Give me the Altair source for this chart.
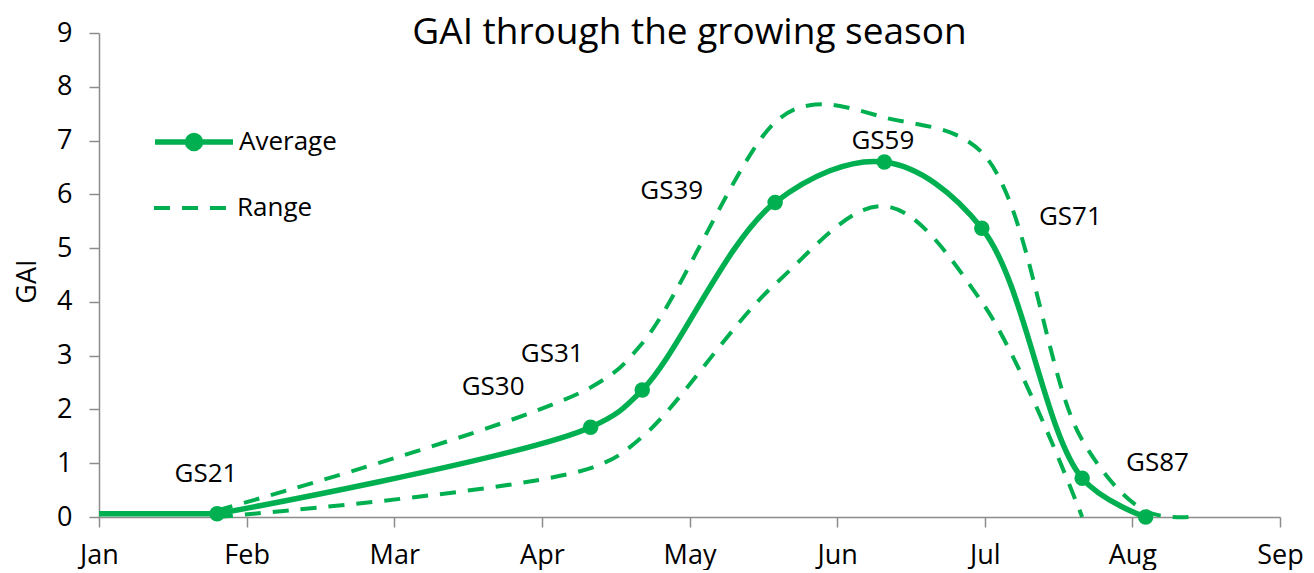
import altair as alt
import pandas as pd

GREEN = "#00B050"
GREY = "#8C8C8C"
FONT = "Open Sans"

months = ["Jan", "Feb", "Mar", "Apr", "May", "Jun", "Jul", "Aug", "Sep"]

# Average GAI (x in months from 1 Jan)
avg_x = [0.0, 0.80, 3.33, 3.68, 4.58, 5.32, 5.98, 6.66, 7.09]
avg_y = [0.06, 0.06, 1.67, 2.36, 5.85, 6.60, 5.37, 0.72, 0.0]
avg_marker = [False, True, True, True, True, True, True, True, True]

# Range: upper and lower bounds
upper_x = [0.80, 3.33, 3.68, 4.58, 4.85, 5.32, 5.98, 6.66, 7.09, 7.38]
upper_y = [0.12, 2.41, 3.23, 7.34, 7.67, 7.43, 6.78, 1.43, 0.11, 0.0]
lower_x = [0.80, 3.33, 3.68, 4.58, 5.32, 5.98, 6.66]
lower_y = [0.0, 0.91, 1.49, 4.33, 5.78, 4.00, 0.0]

# Growth stage annotations
stage_labels = ["GS21", "GS30", "GS31", "GS39", "GS59", "GS71", "GS87"]
stage_x = [0.725, 2.67, 3.07, 3.88, 5.31, 6.58, 7.17]
stage_y = [0.80, 2.41, 3.03, 6.07, 7.00, 5.57, 1.00]

# Average line: the flat winter stretch (before the first marker) is drawn
# straight, the rest is smoothed.
avg_rows = []
for i, (x, y) in enumerate(zip(avg_x, avg_y)):
    if not avg_marker[i] or (i > 0 and not avg_marker[i - 1]):
        avg_rows.append({"x": x, "y": y, "seg": "winter", "i": i, "series": "Average"})
    if avg_marker[i]:
        avg_rows.append({"x": x, "y": y, "seg": "season", "i": i, "series": "Average"})
avg_df = pd.DataFrame(avg_rows)
marker_df = pd.DataFrame({"x": avg_x, "y": avg_y, "marker": avg_marker})

rng_rows = []
for i, (x, y) in enumerate(zip(upper_x, upper_y)):
    rng_rows.append({"x": x, "y": y, "line": "Upper", "series": "Range", "i": i})
for i, (x, y) in enumerate(zip(lower_x, lower_y)):
    rng_rows.append({"x": x, "y": y, "line": "Lower", "series": "Range", "i": i})
rng_df = pd.DataFrame(rng_rows)

labels_df = pd.DataFrame({"x": stage_x, "y": stage_y, "label": stage_labels})

month_expr = "[" + ",".join(f"'{m}'" for m in months) + "][datum.value]"

x_enc = alt.X(
    "x:Q",
    scale=alt.Scale(domain=[0, 8], nice=False, zero=False),
    axis=alt.Axis(
        values=list(range(9)), labelExpr=month_expr, title=None, grid=False,
        labelFont=FONT, labelFontSize=27, labelColor="black", labelPadding=15,
        tickSize=10, tickColor=GREY, tickWidth=1.5, domainColor=GREY, domainWidth=1.5,
        labelFlush=False, labelOverlap=False,
    ),
)
y_enc = alt.Y(
    "y:Q",
    scale=alt.Scale(domain=[0, 9], nice=False),
    axis=alt.Axis(
        values=list(range(10)), format="d", title="GAI", grid=False,
        labelFont=FONT, labelFontSize=27, labelColor="black", labelPadding=17,
        tickSize=10, tickColor=GREY, tickWidth=1.5, domainColor=GREY, domainWidth=1.5,
        titleFont=FONT, titleFontSize=27, titleFontWeight="normal", titleColor="black",
        titleX=-72, titleY=248, titleBaseline="middle", titleAlign="center",
    ),
)

avg_shape = ("M-1,0L1,0M0.167,0C0.167,0.092,0.092,0.167,0,0.167"
             "C-0.092,0.167,-0.167,0.092,-0.167,0C-0.167,-0.092,-0.092,-0.167,0,-0.167"
             "C0.092,-0.167,0.167,-0.092,0.167,0Z")

avg_legend = alt.Legend(
    title=None, orient="none", legendX=53, legendY=94, padding=0,
    symbolType=avg_shape, symbolSize=6084, symbolStrokeWidth=5.5,
    symbolFillColor=GREEN, symbolStrokeColor=GREEN,
    labelFont=FONT, labelFontSize=26, labelColor="black", labelOffset=3,
    clipHeight=30,
)
rng_legend = alt.Legend(
    title=None, orient="none", legendX=53, legendY=160, padding=0,
    symbolType="stroke", symbolSize=6084, symbolStrokeWidth=4,
    symbolStrokeColor=GREEN,
    labelFont=FONT, labelFontSize=26, labelColor="black", labelOffset=3,
    clipHeight=30,
)

range_lines = alt.Chart(rng_df).mark_line(
    interpolate="catmull-rom", color=GREEN, strokeWidth=4
).encode(
    x=x_enc,
    y=y_enc,
    detail="line:N",
    order="i:Q",
    strokeDash=alt.StrokeDash(
        "series:N",
        scale=alt.Scale(domain=["Range"], range=[[16, 12]]),
        legend=rng_legend,
    ),
)

avg_color = alt.Color(
    "series:N",
    scale=alt.Scale(domain=["Average"], range=[GREEN]),
    legend=avg_legend,
)

avg_winter = alt.Chart(avg_df).transform_filter("datum.seg === 'winter'").mark_line(
    strokeWidth=5.5
).encode(x="x:Q", y="y:Q", order="i:Q", color=avg_color)

avg_season = alt.Chart(avg_df).transform_filter("datum.seg === 'season'").mark_line(
    interpolate="catmull-rom", strokeWidth=5.5
).encode(x="x:Q", y="y:Q", order="i:Q", color=avg_color)

points = alt.Chart(marker_df).transform_filter("datum.marker").mark_circle(
    size=240, color=GREEN, opacity=1
).encode(x="x:Q", y="y:Q")

texts = alt.Chart(labels_df).mark_text(
    font=FONT, fontSize=26, color="black", baseline="middle", align="center"
).encode(x="x:Q", y="y:Q", text="label:N")

chart = alt.layer(range_lines, avg_winter, avg_season, points, texts).properties(
    width=1181,
    height=484,
    padding={"left": 91, "top": 25, "right": 26, "bottom": 53},
    autosize=alt.AutoSizeParams(type="none"),
    title=alt.TitleParams(
        "GAI through the growing season", font=FONT, fontSize=37, fontWeight="normal",
        color="black", anchor="middle", baseline="alphabetic", frame="group",
        offset=-62,
    ),
).configure_view(stroke=None)

chart.save("out.html", embed_options={"renderer": "svg", "actions": False})
